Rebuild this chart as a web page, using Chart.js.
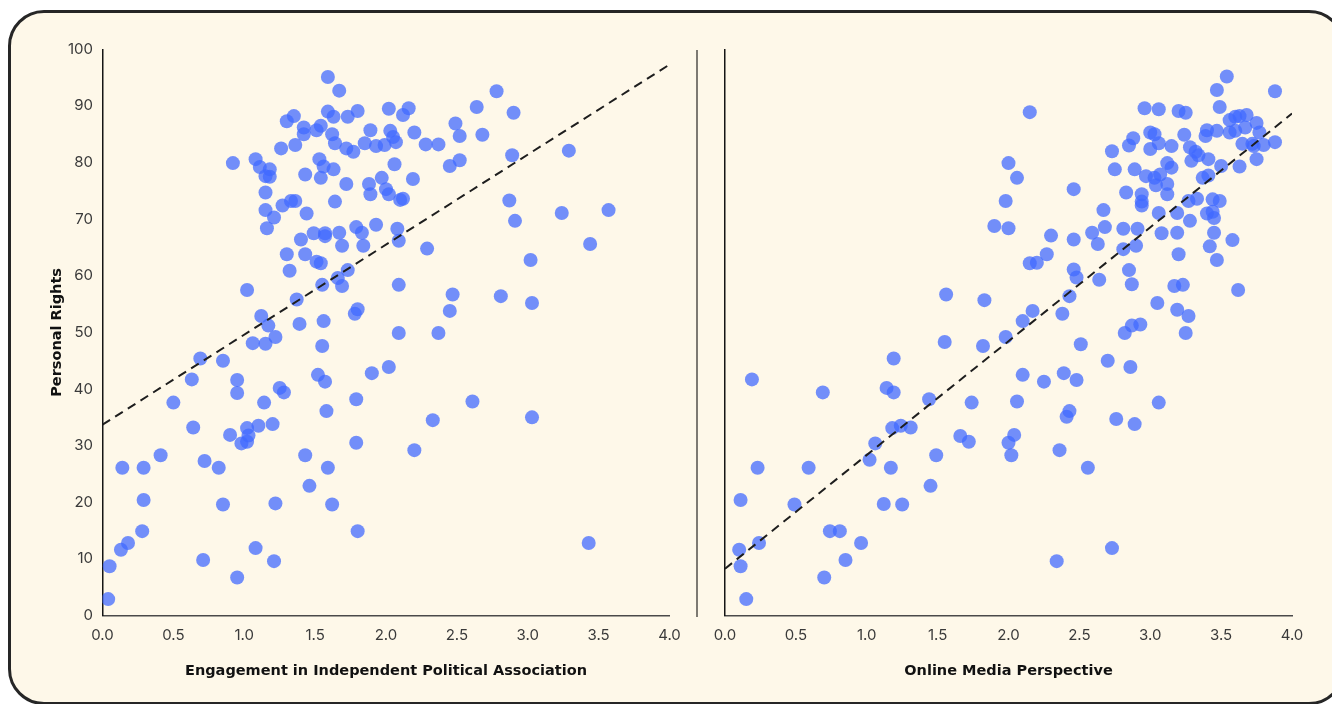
<!DOCTYPE html>
<html>
<head>
<meta charset="utf-8">
<title>Personal Rights vs. Association and Online Media</title>
<script src="https://cdn.jsdelivr.net/npm/chart.js@4.4.1/dist/chart.umd.min.js"></script>
<style>
  html, body { margin: 0; padding: 0; background: #ffffff; }
  body { width: 1332px; height: 704px; position: relative; overflow: hidden; }
  .card {
    position: absolute; left: 8px; top: 10px; width: 1337px; height: 695px;
    box-sizing: border-box; border: 3px solid #262626; border-radius: 36px;
    background: #FEF8E9;
  }
  .divider {
    position: absolute; left: 696px; top: 50px; width: 2px; height: 567px;
    background: #7d7a72;
  }
  canvas { position: absolute; top: 0; }
  #assoc { left: 0; }
  #media { left: 700px; }
</style>
</head>
<body>
<div class="card"></div>
<div class="divider"></div>
<canvas id="assoc" width="700" height="704"></canvas>
<canvas id="media" width="632" height="704"></canvas>
<script>
// Engagement in Independent Political Association (x) vs. Personal Rights (y)
const associationX = [
  0.92, 1.08, 1.11, 1.18, 1.15, 1.18, 1.15, 1.15, 1.21, 1.16,
  1.27, 1.33, 1.36, 1.44, 1.30, 1.35, 1.26, 1.36, 1.42, 1.42,
  1.51, 1.54, 1.59, 1.67, 1.59, 1.63, 1.73, 1.80, 1.62, 1.64,
  1.72, 1.77, 1.53, 1.56, 1.63, 1.54, 1.43, 1.72, 1.64, 1.49,
  1.57, 1.57, 1.67, 1.69, 1.79, 1.83, 1.40, 1.30, 1.43, 1.32,
  1.51, 1.54, 1.73, 1.66, 1.69, 1.55, 1.02, 1.12, 1.17, 1.37,
  1.39, 1.56, 1.78, 1.80, 1.22, 1.06, 1.15, 1.55, 0.69, 0.85,
  0.63, 0.95, 0.95, 1.25, 1.28, 1.52, 1.57, 0.50, 1.14, 1.58,
  1.79, 0.64, 0.90, 1.02, 1.03, 0.98, 1.02, 1.10, 1.20, 1.79,
  0.41, 0.14, 0.29, 0.72, 0.82, 1.43, 1.59, 1.46, 0.29, 0.85,
  1.22, 1.62, 0.28, 0.18, 0.13, 1.80, 1.08, 0.05, 0.71, 1.21,
  0.95, 0.04, 2.02, 2.16, 2.12, 1.89, 2.03, 2.05, 2.07, 1.85,
  1.93, 1.99, 2.20, 2.28, 2.37, 2.49, 2.52, 2.64, 2.68, 2.78,
  2.90, 2.89, 3.29, 2.45, 2.52, 2.06, 2.19, 1.97, 1.88, 1.89,
  2.00, 2.02, 2.10, 2.12, 2.87, 2.91, 3.24, 3.57, 3.44, 3.02,
  1.93, 2.08, 2.09, 1.84, 2.29, 2.09, 2.47, 2.45, 2.81, 3.03,
  2.09, 2.37, 1.90, 2.02, 2.61, 2.33, 3.03, 2.20, 3.43
];
const associationY = [
  79.9, 80.6, 79.2, 78.8, 77.6, 77.5, 74.7, 71.6, 70.3, 68.4,
  72.4, 73.2, 73.2, 71.0, 87.3, 88.2, 82.5, 83.1, 86.2, 85.0,
  85.7, 86.5, 95.1, 92.7, 89.0, 88.1, 88.1, 89.1, 85.0, 83.4,
  82.5, 81.9, 80.6, 79.3, 78.8, 77.3, 77.9, 76.2, 73.1, 67.5,
  67.5, 67.0, 67.6, 65.3, 68.6, 67.6, 66.4, 63.8, 63.8, 60.9,
  62.5, 62.2, 61.0, 59.6, 58.2, 58.4, 57.5, 52.9, 51.2, 55.8,
  51.5, 52.0, 53.3, 54.1, 49.2, 48.1, 48.0, 47.6, 45.4, 45.0,
  41.7, 41.6, 39.3, 40.2, 39.4, 42.5, 41.3, 37.6, 37.6, 36.1,
  38.2, 33.2, 31.9, 33.1, 31.8, 30.4, 30.7, 33.5, 33.8, 30.5,
  28.3, 26.1, 26.1, 27.3, 26.1, 28.3, 26.1, 22.9, 20.4, 19.6,
  19.8, 19.6, 14.9, 12.8, 11.6, 14.9, 11.9, 8.7, 9.8, 9.6,
  6.7, 2.9, 89.5, 89.6, 88.4, 85.7, 85.6, 84.5, 83.6, 83.4,
  82.9, 83.1, 85.3, 83.2, 83.2, 86.9, 84.7, 89.8, 84.9, 92.6,
  88.8, 81.3, 82.1, 79.4, 80.4, 79.7, 77.1, 77.3, 76.2, 74.4,
  75.3, 74.4, 73.4, 73.6, 73.3, 69.7, 71.1, 71.6, 65.6, 62.8,
  69.0, 68.3, 66.2, 65.3, 64.8, 58.4, 56.7, 53.8, 56.4, 55.2,
  49.9, 49.9, 42.8, 43.9, 37.8, 34.5, 35.0, 29.2, 12.8
];

// Online Media Perspective (x) vs. Personal Rights (y)
const mediaX = [
  2.00, 2.06, 1.98, 1.90, 2.00, 1.56, 1.83, 1.55, 1.98, 2.15,
  2.46, 2.96, 3.06, 3.20, 3.25, 3.54, 3.47, 3.88, 3.49, 3.56,
  3.60, 3.63, 3.68, 3.75, 3.67, 3.77, 3.56, 3.60, 3.47, 3.40,
  3.39, 3.65, 3.72, 3.73, 3.80, 3.88, 3.75, 3.63, 3.50, 3.41,
  3.28, 3.32, 3.34, 3.29, 3.24, 3.15, 3.06, 3.03, 3.00, 3.00,
  2.88, 2.85, 2.73, 2.75, 2.89, 3.12, 3.15, 2.97, 3.03, 3.07,
  3.04, 3.12, 3.12, 2.83, 2.94, 2.94, 2.94, 3.37, 3.41, 3.27,
  3.33, 3.44, 3.49, 3.40, 3.44, 3.45, 3.06, 3.19, 3.28, 2.67,
  2.68, 2.59, 2.63, 2.81, 2.91, 2.90, 2.81, 3.08, 3.19, 3.45,
  3.58, 3.42, 3.20, 3.47, 2.30, 2.46, 2.27, 2.15, 2.20, 2.46,
  2.48, 2.64, 2.85, 2.87, 3.17, 3.23, 3.62, 2.43, 2.17, 2.10,
  2.38, 3.05, 3.19, 3.27, 2.82, 2.87, 2.93, 3.25, 2.51, 1.82,
  1.19, 0.19, 0.69, 1.14, 1.19, 1.44, 1.74, 1.18, 1.24, 1.31,
  1.66, 1.72, 2.00, 2.02, 2.04, 1.06, 1.02, 1.17, 1.49, 1.45,
  0.23, 0.59, 0.11, 0.49, 1.12, 1.25, 0.74, 0.81, 0.96, 0.24,
  0.10, 0.11, 0.85, 0.70, 0.15, 2.70, 2.86, 2.10, 2.25, 2.39,
  2.48, 2.06, 2.43, 2.41, 2.76, 2.89, 3.06, 2.36, 2.56, 2.73,
  2.34
];
const mediaY = [
  79.9, 77.3, 73.2, 68.8, 68.4, 56.7, 55.7, 48.3, 49.2, 88.9,
  75.3, 89.6, 89.4, 89.1, 88.8, 95.2, 92.8, 92.6, 89.8, 87.5,
  88.1, 88.2, 88.4, 87.0, 86.2, 85.3, 85.3, 85.6, 85.6, 85.7,
  84.7, 83.3, 83.3, 82.9, 83.1, 83.6, 80.6, 79.3, 79.4, 80.6,
  82.7, 81.9, 81.3, 80.3, 84.9, 82.9, 83.4, 85.0, 85.3, 82.4,
  84.3, 83.0, 82.0, 78.8, 78.8, 79.9, 79.1, 77.6, 77.3, 77.9,
  76.0, 76.2, 74.4, 74.7, 74.4, 73.1, 72.4, 77.3, 77.7, 73.2,
  73.6, 73.5, 73.2, 71.0, 71.3, 70.2, 71.1, 71.1, 69.7, 71.6,
  68.6, 67.6, 65.6, 68.3, 68.3, 65.3, 64.7, 67.5, 67.6, 67.6,
  66.3, 65.2, 63.8, 62.8, 67.1, 66.4, 63.8, 62.2, 62.3, 61.1,
  59.7, 59.3, 61.0, 58.5, 58.2, 58.4, 57.5, 56.4, 53.8, 52.0,
  53.3, 55.2, 54.0, 52.9, 49.9, 51.2, 51.4, 49.9, 47.9, 47.6,
  45.4, 41.7, 39.4, 40.2, 39.4, 38.2, 37.6, 33.1, 33.5, 33.2,
  31.7, 30.7, 30.5, 28.3, 31.9, 30.4, 27.5, 26.1, 28.3, 22.9,
  26.1, 26.1, 20.4, 19.6, 19.7, 19.6, 14.9, 14.9, 12.8, 12.8,
  11.6, 8.7, 9.8, 6.7, 2.9, 45.0, 43.9, 42.5, 41.3, 42.8,
  41.6, 37.8, 36.1, 35.1, 34.7, 33.8, 37.6, 29.2, 26.1, 11.9,
  9.6
];

// Least-squares fit lines: [intercept, slope]
const associationFit = [33.7, 15.9];
const mediaFit = [8.25, 20.1];

// Axis ranges and tick steps
const xRange = [0, 4];
const xStep = 0.5;
const yRange = [0, 100];
const yStep = 10;

const POINT_COLOR = 'rgba(65, 105, 255, 0.74)';
const TICK_FONT = { family: 'Inter, "Noto Sans", sans-serif', size: 15, weight: '400' };
const TITLE_FONT = { family: '"DejaVu Sans", Inter, sans-serif', size: 14.5, weight: '700' };

function pairs(xs, ys) {
  return xs.map((x, i) => ({ x: x, y: ys[i] }));
}
function fitLine(fit) {
  return xRange.map(x => ({ x: x, y: fit[0] + fit[1] * x }));
}

function buildChart(canvasId, xs, ys, fit, xTitle, showY, yAxisWidth, rightPad) {
  const ctx = document.getElementById(canvasId).getContext('2d');
  return new Chart(ctx, {
    type: 'scatter',
    data: {
      datasets: [
        {
          data: fitLine(fit),
          showLine: true,
          borderColor: '#1e1e1e',
          borderWidth: 2,
          borderDash: [9, 6],
          pointRadius: 0,
          pointHoverRadius: 0,
          fill: false,
          order: 0
        },
        {
          data: pairs(xs, ys),
          backgroundColor: POINT_COLOR,
          borderWidth: 0,
          pointRadius: 7,
          pointHoverRadius: 7,
          order: 1
        }
      ]
    },
    options: {
      responsive: false,
      animation: false,
      devicePixelRatio: 1,
      layout: { padding: { top: 49.3, right: rightPad, bottom: 18.5, left: 0 } },
      plugins: { legend: { display: false }, tooltip: { enabled: false } },
      scales: {
        x: {
          type: 'linear',
          min: xRange[0],
          max: xRange[1],
          grid: { display: false, drawTicks: false },
          border: { display: true, color: '#4a4a4a', width: 1.5 },
          ticks: {
            stepSize: xStep,
            color: '#3a3a3a',
            font: TICK_FONT,
            padding: 11,
            maxRotation: 0,
            callback: v => Number(v).toFixed(1)
          },
          title: {
            display: true,
            text: xTitle,
            color: '#111111',
            font: TITLE_FONT,
            padding: { top: 0, bottom: 6 }
          },
          afterFit: s => { s.height = 70; }
        },
        y: {
          type: 'linear',
          min: yRange[0],
          max: yRange[1],
          grid: { display: false, drawTicks: false },
          border: { display: true, color: '#151515', width: 1.5 },
          ticks: {
            display: showY,
            stepSize: yStep,
            color: '#3a3a3a',
            font: TICK_FONT,
            padding: 9.5
          },
          title: {
            display: showY,
            text: 'Personal Rights',
            color: '#111111',
            font: TITLE_FONT,
            padding: { top: 48.3, bottom: 0 }
          },
          afterFit: s => { s.width = yAxisWidth; }
        }
      }
    }
  });
}

buildChart('assoc', associationX, associationY, associationFit,
  'Engagement in Independent Political Association', true, 102.5, 30.5);
buildChart('media', mediaX, mediaY, mediaFit,
  'Online Media Perspective', false, 25, 40);
</script>
</body>
</html>
